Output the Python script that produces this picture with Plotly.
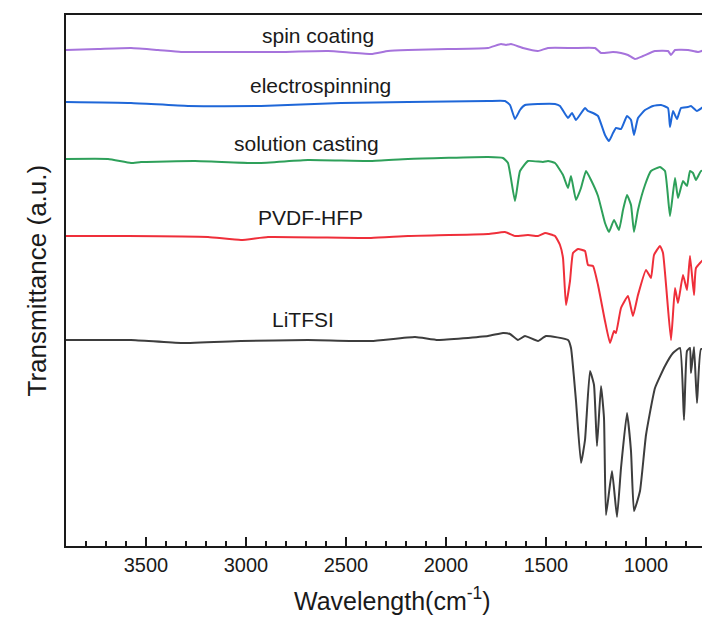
import plotly.graph_objects as go

# Wavenumber (cm^-1) and transmittance (a.u., offset)
spin_x = [3900, 3740, 3575, 3440, 3325, 3155, 2855, 2590, 2375, 2290, 2190, 1990, 1790, 1725, 1700, 1675, 1615, 1540, 1490, 1365, 1255, 1225, 1165, 1125, 1090, 1055, 1015, 955, 890, 875, 855, 790, 740, 690, 640]
spin_y = [496, 497, 498, 496, 494, 494, 494, 495, 492, 495, 496, 497, 498, 502, 501, 502, 498, 495, 498, 498, 498, 493, 494, 493, 491, 487, 490, 495, 495, 491, 496, 496, 494, 497, 496]

elec_x = [3900, 3575, 3290, 2925, 2525, 2190, 1790, 1705, 1680, 1655, 1630, 1605, 1540, 1455, 1430, 1390, 1370, 1350, 1305, 1290, 1265, 1240, 1205, 1185, 1165, 1150, 1125, 1095, 1075, 1060, 1040, 1005, 965, 925, 890, 880, 865, 845, 825, 790, 775, 745, 705, 675, 640]
elec_y = [444, 443, 440, 440, 443, 444, 445, 445, 441, 427, 436, 441, 442, 442, 440, 428, 433, 426, 438, 435, 433, 430, 411, 405, 413, 418, 417, 430, 426, 411, 428, 436, 440, 441, 438, 419, 435, 427, 438, 439, 440, 435, 440, 437, 439]

cast_x = [3900, 3690, 3575, 3525, 3255, 2940, 2690, 2375, 2190, 1790, 1715, 1690, 1655, 1630, 1590, 1515, 1490, 1455, 1415, 1390, 1375, 1350, 1325, 1300, 1275, 1240, 1205, 1185, 1160, 1135, 1115, 1095, 1075, 1060, 1040, 1005, 975, 930, 905, 880, 855, 840, 815, 795, 780, 765, 750, 725, 700, 675, 640]
cast_y = [387, 387, 383, 384, 385, 383, 386, 385, 387, 389, 388, 383, 345, 375, 385, 384, 385, 383, 371, 358, 370, 346, 358, 375, 366, 350, 323, 314, 326, 316, 336, 351, 341, 314, 336, 361, 375, 379, 375, 330, 368, 348, 365, 360, 375, 373, 366, 375, 375, 360, 366]

pvdf_x = [3900, 3590, 3190, 3025, 2890, 2375, 2190, 1790, 1705, 1655, 1590, 1540, 1505, 1455, 1430, 1415, 1400, 1380, 1365, 1340, 1305, 1290, 1265, 1240, 1205, 1180, 1160, 1150, 1125, 1090, 1065, 1040, 1000, 975, 960, 930, 915, 875, 855, 840, 815, 795, 780, 760, 750, 705, 640]
pvdf_y = [310, 310, 309, 306, 309, 308, 310, 312, 314, 310, 311, 310, 313, 310, 301, 288, 241, 265, 293, 297, 295, 281, 280, 261, 225, 203, 215, 213, 238, 250, 230, 251, 276, 268, 291, 300, 293, 206, 258, 243, 271, 256, 290, 251, 278, 288, 295]

litfsi_x = [3900, 3575, 3325, 3025, 2690, 2375, 2155, 2040, 1790, 1715, 1680, 1640, 1605, 1540, 1500, 1390, 1375, 1350, 1325, 1305, 1280, 1260, 1245, 1225, 1210, 1200, 1170, 1145, 1125, 1095, 1075, 1060, 1030, 1000, 955, 905, 865, 830, 810, 795, 780, 775, 760, 745, 725, 690, 665, 640]
litfsi_y = [206, 206, 203, 205, 206, 205, 209, 206, 210, 213, 212, 206, 210, 205, 210, 206, 198, 145, 83, 106, 175, 161, 100, 160, 128, 31, 75, 29, 78, 133, 95, 35, 55, 111, 158, 180, 193, 198, 126, 195, 198, 173, 199, 143, 197, 195, 178, 126]

series = [
    ("spin coating", spin_x, spin_y, "#a673dc"),
    ("electrospinning", elec_x, elec_y, "#1f67d8"),
    ("solution casting", cast_x, cast_y, "#2ea05a"),
    ("PVDF-HFP", pvdf_x, pvdf_y, "#ef2f3a"),
    ("LiTFSI", litfsi_x, litfsi_y, "#3d3d3d"),
]

label_x = [2640, 2630, 2700, 2680, 2715]
label_y = [511, 461, 403, 329, 227]

FONT = "Liberation Sans, Arial"

fig = go.Figure()
for name, xs, ys, col in series:
    fig.add_trace(go.Scatter(x=xs, y=ys, mode="lines", name=name,
                             line=dict(color=col, width=2, shape="spline", smoothing=0.4),
                             showlegend=False))

for (name, _, _, _), lx, ly in zip(series, label_x, label_y):
    fig.add_annotation(x=lx, y=ly, text=name, showarrow=False, xref="x", yref="y",
                       xanchor="center", yanchor="middle",
                       font=dict(family=FONT, size=21, color="#1a1a1a"))

fig.add_annotation(x=-0.046, y=0.5, xref="paper", yref="paper", text="Transmittance (a.u.)",
                   textangle=-90, showarrow=False, xanchor="center", yanchor="middle",
                   font=dict(family=FONT, size=26, color="#1a1a1a"))
fig.add_annotation(x=0.5, y=-0.10, xref="paper", yref="paper", xanchor="center", yanchor="middle",
                   text="Wavelength(cm<sup>-1</sup>)", showarrow=False,
                   font=dict(family=FONT, size=25, color="#1a1a1a"))

fig.update_layout(
    width=710, height=622,
    margin=dict(l=58, r=0, t=7, b=84),
    plot_bgcolor="white", paper_bgcolor="white",
    xaxis=dict(range=[3900, 640], showgrid=False, zeroline=False,
               showline=True, linecolor="#1a1a1a", linewidth=2, mirror=True,
               tickvals=[3500, 3000, 2500, 2000, 1500, 1000],
               ticks="inside", ticklen=9, tickwidth=2, tickcolor="#1a1a1a",
               minor=dict(dtick=100, tick0=0, ticks="inside", ticklen=5, tickwidth=1.5, tickcolor="#1a1a1a"),
               tickfont=dict(family=FONT, size=20, color="#1a1a1a")),
    yaxis=dict(range=[0, 531], showgrid=False, zeroline=False, showticklabels=False,
               showline=True, linecolor="#1a1a1a", linewidth=2, mirror=False, ticks=""),
)

fig.write_html("out.html")
